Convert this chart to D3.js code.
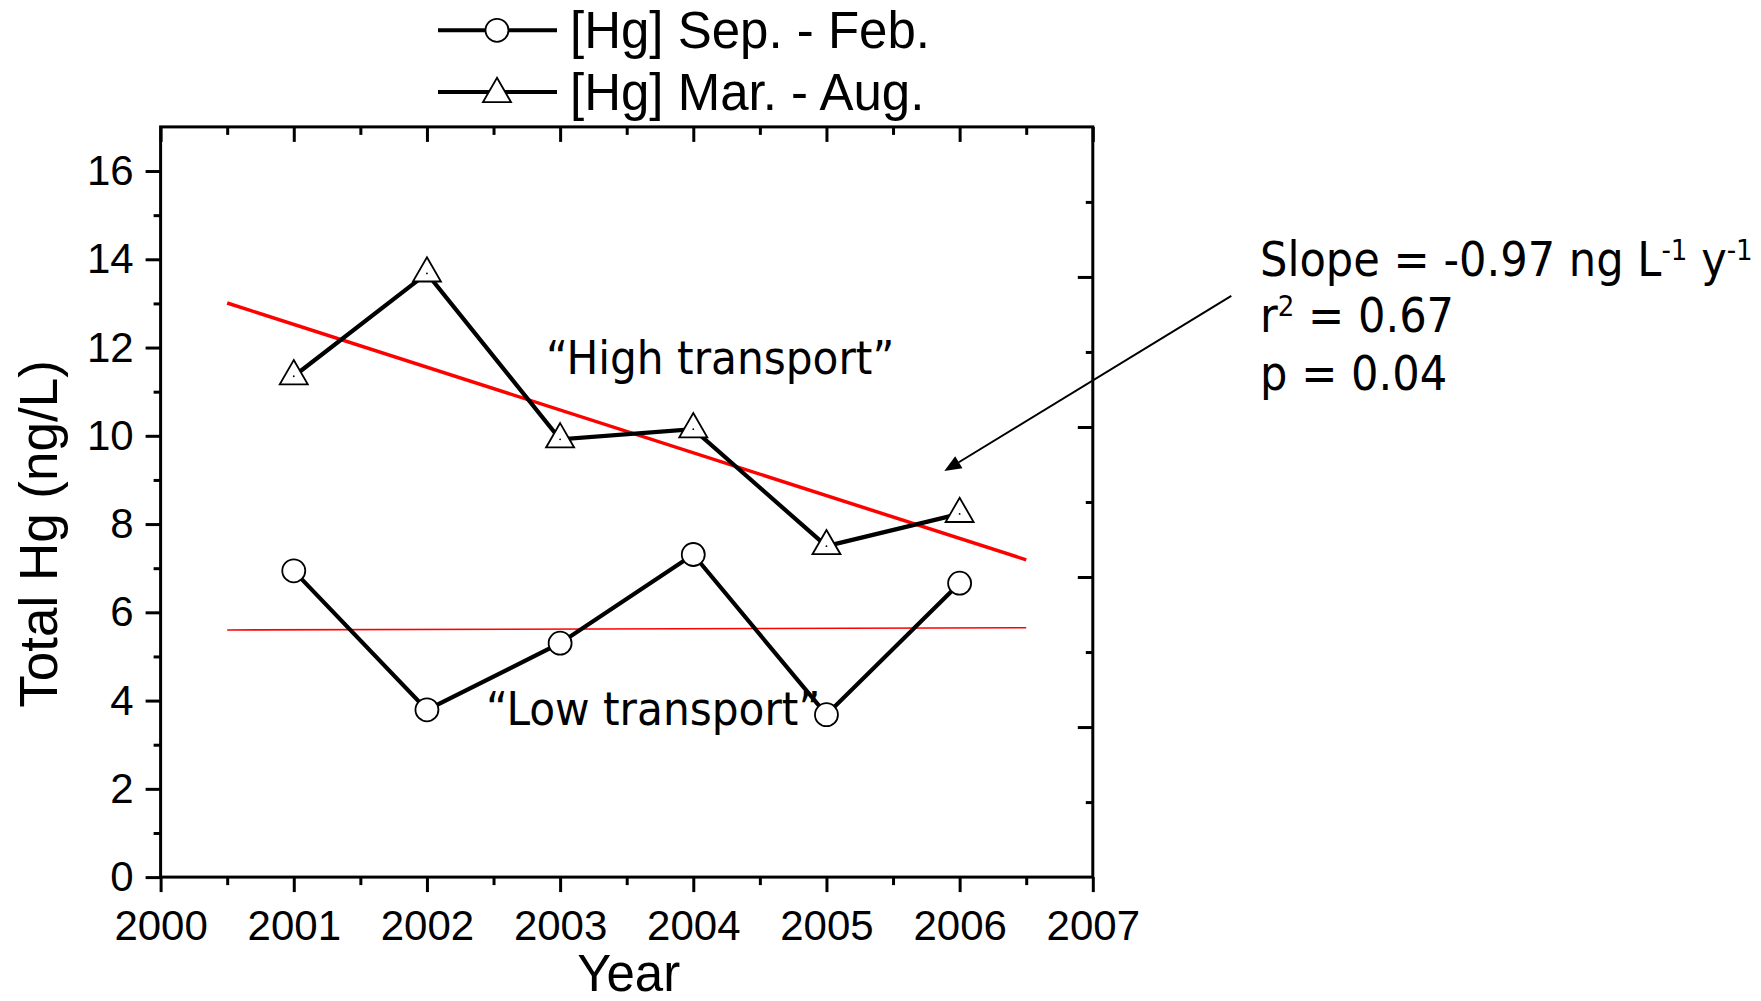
<!DOCTYPE html>
<html><head><meta charset="utf-8">
<script src="https://cdn.jsdelivr.net/npm/d3@7"></script>
<style>body{margin:0;background:#fff} svg{display:block}</style>
</head><body>
<svg id="chart" width="1761" height="1001"></svg>
<script>
// ---- data ----
const years = [2001, 2002, 2003, 2004, 2005, 2006];
const sepFeb = [6.94, 3.79, 5.30, 7.31, 3.68, 6.66];
const marAug = [11.35, 13.68, 9.92, 10.15, 7.50, 8.23];
const fitYears = [2000.5, 2006.5];
const highFit = [13.01, 7.19];
const lowFit = [5.60, 5.65];
const xTicks = [2000, 2001, 2002, 2003, 2004, 2005, 2006, 2007];
const xMinor = [2000.5, 2001.5, 2002.5, 2003.5, 2004.5, 2005.5, 2006.5];
const yTicks = [0, 2, 4, 6, 8, 10, 12, 14, 16];
const yMinor = [1, 3, 5, 7, 9, 11, 13, 15];
const rightMajor = [2, 4, 6, 8];
const rightMinor = [1, 3, 5, 7, 9];
const seriesNames = ["[Hg] Sep. - Feb.", "[Hg] Mar. - Aug."];
const statLines = ["Slope = -0.97 ng L", "r", "p = 0.04"];

// ---- layout ----
const L = 160.6, R = 1092.8, T = 126.9, B = 877.1;
const svg = d3.select("#chart");
const x = d3.scaleLinear().domain([2000, 2007]).range([L, R]);
const y = d3.scaleLinear().domain([0, 17]).range([B, T]);
const yR = d3.scaleLinear().domain([0, 10]).range([B, T]);

const ARIAL = "'Liberation Sans', Arial, sans-serif";
const TAHOMA = "'DejaVu Sans Condensed', 'DejaVu Sans', sans-serif";

function styleTicks(g) {
  g.select(".domain").remove();
  g.selectAll(".tick line").attr("stroke", "#000").attr("stroke-width", 3);
}

// left axis (labels)
svg.append("g").attr("transform", `translate(${L},0)`)
  .call(d3.axisLeft(y).tickValues(yTicks).tickSize(15).tickPadding(12).tickFormat(d3.format("d")))
  .call(styleTicks)
  .call(g => g.selectAll("text").attr("font-family", ARIAL).attr("font-size", 42).attr("fill", "#000"));
svg.append("g").attr("transform", `translate(${L},0)`)
  .call(d3.axisLeft(y).tickValues(yMinor).tickSize(7).tickFormat(""))
  .call(styleTicks);

// bottom axis
svg.append("g").attr("transform", `translate(0,${B})`)
  .call(d3.axisBottom(x).tickValues(xTicks).tickSize(15).tickPadding(8).tickFormat(d3.format("d")))
  .call(styleTicks)
  .call(g => g.selectAll("text").attr("font-family", ARIAL).attr("font-size", 42).attr("fill", "#000").attr("dy", "0.95em"));
svg.append("g").attr("transform", `translate(0,${B})`)
  .call(d3.axisBottom(x).tickValues(xMinor).tickSize(8).tickFormat(""))
  .call(styleTicks);

// top axis (inward)
svg.append("g").attr("transform", `translate(0,${T})`)
  .call(d3.axisBottom(x).tickValues(xTicks).tickSize(15).tickFormat(""))
  .call(styleTicks);
svg.append("g").attr("transform", `translate(0,${T})`)
  .call(d3.axisBottom(x).tickValues(xMinor).tickSize(8).tickFormat(""))
  .call(styleTicks);

// right axis (inward, own scale)
svg.append("g").attr("transform", `translate(${R},0)`)
  .call(d3.axisLeft(yR).tickValues(rightMajor).tickSize(15).tickFormat(""))
  .call(styleTicks);
svg.append("g").attr("transform", `translate(${R},0)`)
  .call(d3.axisLeft(yR).tickValues(rightMinor).tickSize(7).tickFormat(""))
  .call(styleTicks);

// frame
svg.append("rect").attr("x", L).attr("y", T).attr("width", R - L).attr("height", B - T)
  .attr("fill", "none").attr("stroke", "#000").attr("stroke-width", 3);

// axis titles
svg.append("text").attr("x", (L + R) / 2 + 2).attr("y", 991).attr("text-anchor", "middle")
  .attr("font-family", ARIAL).attr("font-size", 51).text("Year");
svg.append("text").attr("transform", "translate(57,534) rotate(-90)").attr("text-anchor", "middle")
  .attr("font-family", ARIAL).attr("font-size", 53).text("Total Hg (ng/L)");

// fit lines
const fitLine = d3.line().x((d, i) => x(fitYears[i])).y(d => y(d));
svg.append("path").attr("d", fitLine(highFit)).attr("fill", "none").attr("stroke", "#ff0000").attr("stroke-width", 3.5);
svg.append("path").attr("d", fitLine(lowFit)).attr("fill", "none").attr("stroke", "#ff0000").attr("stroke-width", 1.6);

// data lines
const dataLine = d3.line().x((d, i) => x(years[i])).y(d => y(d));
[sepFeb, marAug].forEach(s => {
  svg.append("path").attr("d", dataLine(s)).attr("fill", "none").attr("stroke", "#000")
    .attr("stroke-width", 4.2).attr("stroke-linejoin", "miter");
});

const circleSym = d3.symbol().type(d3.symbolCircle).size(Math.PI * 11.5 * 11.5);
const triSym = d3.symbol().type(d3.symbolTriangle).size(340);

svg.append("g").selectAll("path").data(sepFeb).join("path")
  .attr("transform", (d, i) => `translate(${x(years[i])},${y(d)})`)
  .attr("d", circleSym).attr("fill", "#fff").attr("stroke", "#000").attr("stroke-width", 1.8);
svg.append("g").selectAll("path").data(marAug).join("path")
  .attr("transform", (d, i) => `translate(${x(years[i])},${y(d)})`)
  .attr("d", triSym).attr("fill", "#fff").attr("stroke", "#000").attr("stroke-width", 1.8);
svg.append("g").selectAll("circle").data(marAug).join("circle")
  .attr("cx", (d, i) => x(years[i])).attr("cy", d => y(d)).attr("r", 0.9).attr("fill", "#000");

// legend
const legY = [30.3, 92];
const legSyms = [circleSym, triSym];
seriesNames.forEach((name, i) => {
  const g = svg.append("g");
  g.append("line").attr("x1", 438).attr("x2", 557).attr("y1", legY[i]).attr("y2", legY[i])
    .attr("stroke", "#000").attr("stroke-width", 4);
  g.append("path").attr("transform", `translate(497,${legY[i] + (i === 1 ? 2 : 0)})`)
    .attr("d", legSyms[i]).attr("fill", "#fff").attr("stroke", "#000").attr("stroke-width", 1.8);
  g.append("text").attr("x", 570).attr("y", legY[i] + 18).attr("font-family", ARIAL)
    .attr("font-size", 51).text(name);
});

// annotations
svg.append("text").attr("x", 546).attr("y", 374).attr("font-family", TAHOMA).attr("font-size", 47)
  .text("\u201CHigh transport\u201D");
svg.append("text").attr("x", 486).attr("y", 725).attr("font-family", TAHOMA).attr("font-size", 47)
  .text("\u201CLow transport\u201D");

const st = svg.append("g").attr("font-family", TAHOMA).attr("font-size", 48);
const t1 = st.append("text").attr("x", 1260).attr("y", 276);
t1.append("tspan").text(statLines[0]);
t1.append("tspan").attr("dy", -16).attr("font-size", 29).text("-1");
t1.append("tspan").attr("dy", 16).text(" y");
t1.append("tspan").attr("dy", -16).attr("font-size", 29).text("-1");
const t2 = st.append("text").attr("x", 1260).attr("y", 332);
t2.append("tspan").text(statLines[1]);
t2.append("tspan").attr("dy", -16).attr("font-size", 29).text("2");
t2.append("tspan").attr("dy", 16).text(" = 0.67");
st.append("text").attr("x", 1260).attr("y", 390).text(statLines[2]);

// arrow (in data coordinates)
const arrowFrom = [2008.04, 13.17], arrowTo = [2005.885, 9.2];
const x0 = x(arrowFrom[0]), y0 = y(arrowFrom[1]), x1 = x(arrowTo[0]), y1 = y(arrowTo[1]);
const ang = Math.atan2(y1 - y0, x1 - x0);
const hl = 17, hw = 7;
const bx = x1 - hl * Math.cos(ang), by = y1 - hl * Math.sin(ang);
svg.append("line").attr("x1", x0).attr("y1", y0).attr("x2", bx).attr("y2", by)
  .attr("stroke", "#000").attr("stroke-width", 2);
svg.append("path").attr("d", `M${x1},${y1}L${bx + hw * Math.sin(ang)},${by - hw * Math.cos(ang)}L${bx - hw * Math.sin(ang)},${by + hw * Math.cos(ang)}Z`)
  .attr("fill", "#000");
</script>
</body></html>
